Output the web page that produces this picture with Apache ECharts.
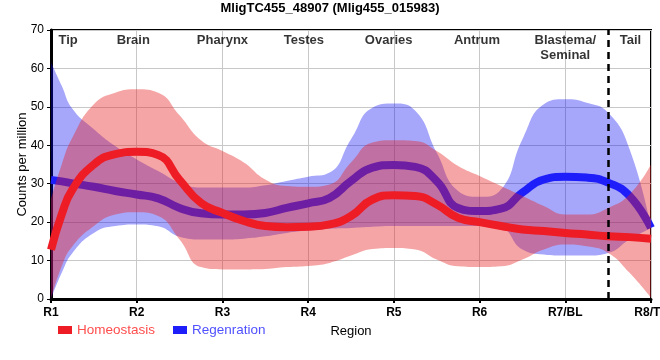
<!DOCTYPE html>
<html><head><meta charset="utf-8">
<script src="https://cdn.jsdelivr.net/npm/echarts@6/dist/echarts.min.js"></script>
<style>html,body{margin:0;padding:0;background:#fff}#c{width:660px;height:360px}</style>
</head><body><div id="c"></div>
<script>
// ---- data ----
const titleText = 'MligTC455_48907 (Mlig455_015983)';
const xTickLabels = ['R1','R2','R3','R4','R5','R6','R7/BL','R8/TL'];
const regionNames = ['Tip','Brain','Pharynx','Testes','Ovaries','Antrum','Blastema/\nSeminal','Tail'];
const regionX = [1.2, 1.96, 3.0, 3.95, 4.94, 5.97, 7.0, 7.76];
const regionY = 69.3;
const tailBoundary = 7.5;

const xs = [1,1.125,1.25,1.5,1.75,2,2.25,2.5,2.75,3,3.25,3.5,3.75,4,4.25,4.5,4.75,5,5.25,5.5,5.75,6,6.25,6.5,6.75,7,7.25,7.5,7.75,8];

const homMean = [12.8,22,28.5,35,37.7,38.3,37.5,31,25,22.4,20.3,19,18.7,18.8,19.4,21.6,25.9,27,26.8,24.6,21.1,20,19,18.1,17.7,17.2,16.8,16.3,16.1,15.7];
const homHi   = [26,35,42,50.7,53.7,54.6,53.7,47.8,41.3,38.5,35.5,31.1,29.4,29.2,29.8,35.5,40.7,41.3,41.1,38.5,34.6,32,29.4,26.8,24.2,22,22,23.7,27.2,35];
const homLo   = [0,8.5,13.7,19,22,22.6,21.6,15.5,8.3,7.7,7.7,7.8,8.3,8.6,9.4,11.3,13,13.3,12.9,10.3,8.5,8.3,8.5,10.3,12.9,14.2,13.7,12,6.8,0.3];

const regMean = [31,30.6,30.1,29.2,28.1,27.2,26.2,23.7,22.3,22,22,22.4,23.7,24.9,26.3,30.7,34.2,34.9,34.4,30.7,23.7,22.9,23.5,27.7,31.1,31.8,31.6,30.3,26.8,18.5];
const regHi   = [61.6,55.5,49.5,44.2,39.8,36.3,33.3,30.3,29,29,29,29.6,30.7,31.8,32.9,41.6,49.8,50.9,49,38.1,28.1,26.6,28.5,41.6,50.7,52,51.1,48.5,39,18.5];
const regLo   = [0,6.8,12,17.2,19,19.4,18.9,16.2,15.5,15.5,15.7,16.3,17.2,17.8,18.3,18.5,18.8,19,19,19,19,19,18.5,12.9,11.6,11.3,11.3,12,15.5,18.5];

// ---- chart ----
const FONT = 'Liberation Sans, Arial, sans-serif';
const pairs = arr => xs.map((x,i)=>[x, arr[i]]);
// band rows are [y, x] so the stacked dimension is y
const rowsYX = arr => xs.map((x,i)=>[arr[i], x]);
const diffYX = (hi, lo) => xs.map((x,i)=>[hi[i]-lo[i], x]);

const RED = '#ee1c25', BLUE = '#1e1efa';
const redFill = 'rgba(230,30,30,0.4)', blueFill = 'rgba(0,0,240,0.35)';

function band(name, stack, lo, hi, fill, z) {
  return [
    { name: name+'_lo', type:'line', stack, data: rowsYX(lo), encode:{x:1, y:0}, smooth:0.5, showSymbol:false,
      lineStyle:{opacity:0}, silent:true, z },
    { name: name+'_band', type:'line', stack, data: diffYX(hi, lo), encode:{x:1, y:0}, smooth:0.5, showSymbol:false,
      lineStyle:{opacity:0}, areaStyle:{color:fill, opacity:1}, silent:true, z }
  ];
}

const chart = echarts.init(document.getElementById('c'), null, {renderer:'canvas'});
chart.setOption({
  animation:false,
  textStyle:{fontFamily:FONT},
  title:{ text:titleText, left:'center', top:2, padding:0,
    textStyle:{fontSize:13, fontWeight:'bold', color:'#000', fontFamily:FONT}},
  grid:{ left:51, right:9, top:30, bottom:61, show:true, borderColor:'#000', borderWidth:2, backgroundColor:'transparent',
    containLabel:false, outerBoundsMode:'none' },
  legend:{ left:53, top:318, itemWidth:14, itemHeight:8, itemGap:18, icon:'rect',
    textStyle:{fontSize:13.5, fontFamily:FONT},
    data:[ {name:'Homeostasis', textStyle:{color:'#ff4d4d'}}, {name:'Regenration', textStyle:{color:'#5050ff'}} ] },
  xAxis:{ type:'value', min:1, max:8, interval:1, name:'Region', nameLocation:'middle', nameGap:26, nameMoveOverlap:false,
    nameTextStyle:{fontSize:13, color:'#000', fontFamily:FONT},
    axisLine:{show:true, onZero:false, lineStyle:{color:'#000', width:3}},
    axisTick:{show:true, length:4, lineStyle:{color:'#000', width:2}},
    axisLabel:{ fontSize:12, fontWeight:'bold', color:'#000', margin:8, fontFamily:FONT,
      alignMinLabel:'center', alignMaxLabel:'center', hideOverlap:false,
      formatter: v => xTickLabels[Math.round(v)-1] || '' },
    splitLine:{show:true, lineStyle:{color:'#c8c8c8', width:1}} },
  yAxis:{ type:'value', min:0, max:70, interval:10, name:'Counts per million', nameLocation:'middle', nameGap:22, nameMoveOverlap:false,
    nameTextStyle:{fontSize:13, color:'#000', fontFamily:FONT},
    axisLine:{show:true, lineStyle:{color:'#000', width:3}},
    axisTick:{show:true, length:4, lineStyle:{color:'#000', width:1}},
    axisLabel:{fontSize:12, color:'#000', margin:7, fontFamily:FONT},
    splitLine:{show:true, lineStyle:{color:'#c8c8c8', width:1}} },
  series:[
    ...band('reg','regBand', regLo, regHi, blueFill, 1),
    { name:'Regenration', type:'line', data:pairs(regMean), smooth:0.5, showSymbol:false, clip:false,
      lineStyle:{color:BLUE, width:8}, itemStyle:{color:BLUE}, z:2 },
    ...band('hom','homBand', homLo, homHi, redFill, 3),
    { name:'Homeostasis', type:'line', data:pairs(homMean), smooth:0.5, showSymbol:false, clip:false,
      lineStyle:{color:RED, width:8}, itemStyle:{color:RED}, z:4,
      markLine:{ silent:true, symbol:['none','none'], label:{show:false},
        lineStyle:{color:'#000', type:[7,5], width:2.5},
        data:[{xAxis:tailBoundary}] } },
    { name:'regions', type:'scatter', symbolSize:0, z:6, silent:true,
      data: regionX.map((x,i)=>({value:[x, regionY], label:{formatter:regionNames[i]}})),
      label:{show:true, position:'bottom', distance:0, align:'center', verticalAlign:'top',
        fontSize:13, fontWeight:'bold', color:'#000', lineHeight:15, fontFamily:FONT} }
  ]
});
</script></body></html>
